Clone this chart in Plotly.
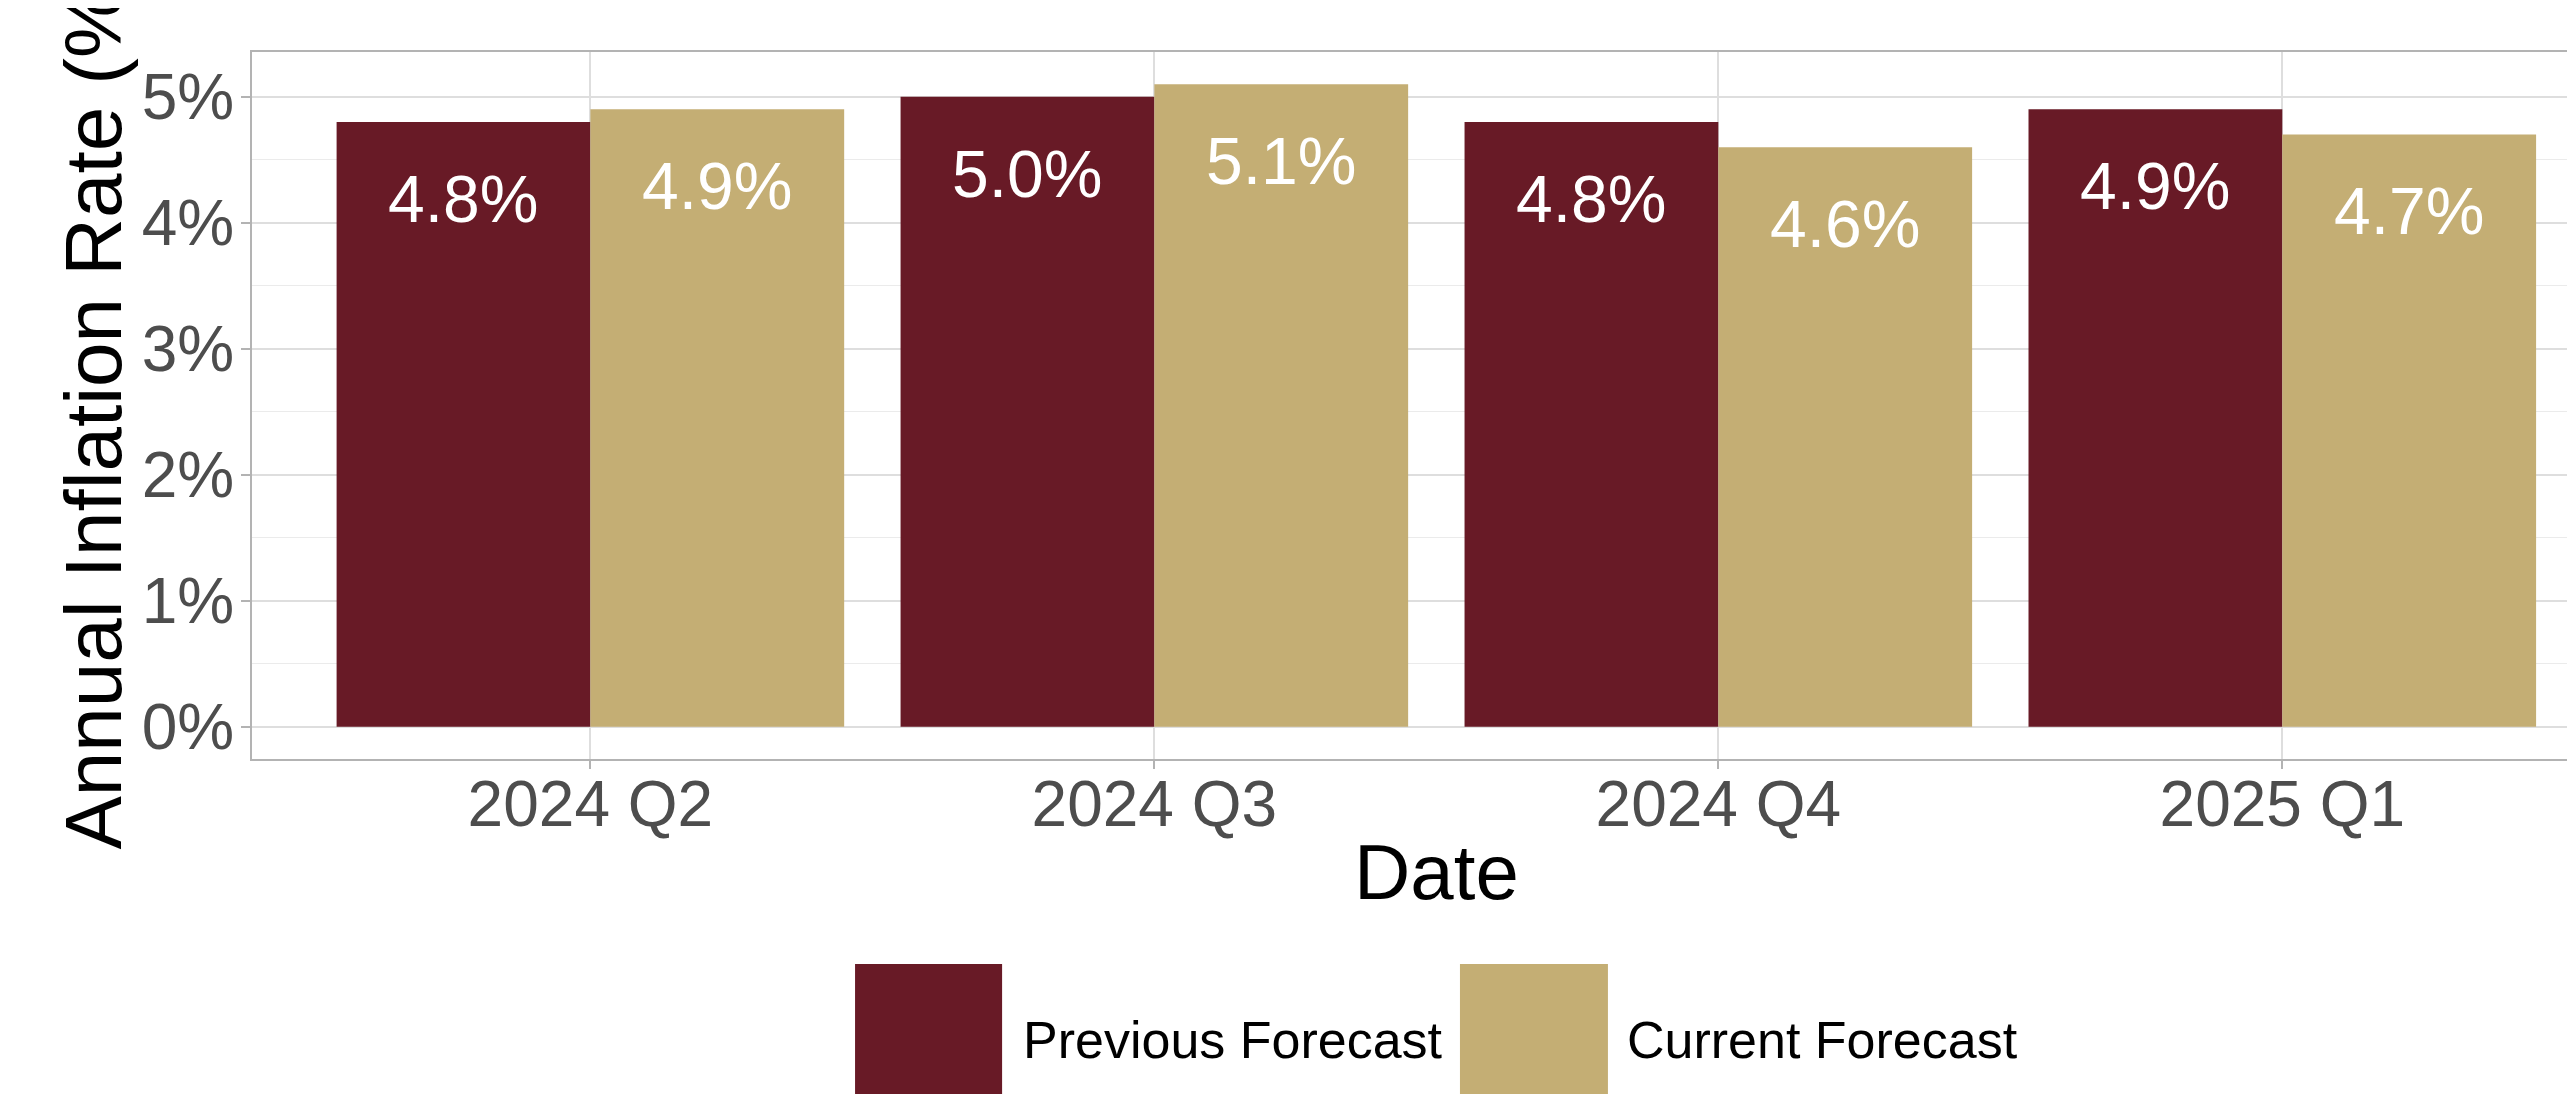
import plotly.graph_objects as go

categories = ["2024 Q2", "2024 Q3", "2024 Q4", "2025 Q1"]
previous_forecast = [4.8, 5.0, 4.8, 4.9]
current_forecast = [4.9, 5.1, 4.6, 4.7]
series_names = ["Previous Forecast", "Current Forecast"]
y_ticks = [0, 1, 2, 3, 4, 5]
y_tick_labels = ["0%", "1%", "2%", "3%", "4%", "5%"]

PREV_COLOR = "#681A26"
CURR_COLOR = "#C4AE74"
FONT = "Liberation Sans, Arial, sans-serif"

xpos = list(range(len(categories)))

fig = go.Figure()
fig.add_trace(go.Bar(x=xpos, y=previous_forecast, name=series_names[0],
                     marker=dict(color=PREV_COLOR, line=dict(width=0)), showlegend=False))
fig.add_trace(go.Bar(x=xpos, y=current_forecast, name=series_names[1],
                     marker=dict(color=CURR_COLOR, line=dict(width=0)), showlegend=False))

annotations = []
for i, (p, c) in enumerate(zip(previous_forecast, current_forecast)):
    for dx, v in ((-0.225, p), (0.225, c)):
        annotations.append(dict(x=i + dx, y=v - 0.61, xref="x", yref="y",
                                text=f"{v:.1f}%", showarrow=False,
                                font=dict(family=FONT, size=66, color="white"),
                                xanchor="center", yanchor="middle"))

# axis titles
annotations.append(dict(x=0.5097, y=-0.095, xref="paper", yref="paper", text="Date",
                        showarrow=False, font=dict(family=FONT, size=78, color="black"),
                        xanchor="center", yanchor="top"))
annotations.append(dict(x=-0.0684, y=0.5, xref="paper", yref="paper",
                        text="Annual Inflation Rate (%)", textangle=-90,
                        showarrow=False, font=dict(family=FONT, size=80, color="black"),
                        xanchor="center", yanchor="middle"))

# manual legend
shapes = []
legend_items = [(series_names[0], PREV_COLOR, 0.2596, 0.3229, 0.331),
                (series_names[1], CURR_COLOR, 0.520, 0.5837, 0.591)]
for name, col, x0, x1, tx in legend_items:
    shapes.append(dict(type="rect", xref="paper", yref="paper", x0=x0, x1=x1,
                       y0=-0.498, y1=-0.29, fillcolor=col, line=dict(width=0)))
    annotations.append(dict(x=tx, y=-0.397, xref="paper", yref="paper", text=name,
                            showarrow=False, font=dict(family=FONT, size=52, color="black"),
                            xanchor="left", yanchor="middle"))

fig.update_layout(
    width=2575, height=1094,
    margin=dict(l=244, r=8, t=44, b=343, pad=0, autoexpand=False),
    paper_bgcolor="white", plot_bgcolor="white",
    barmode="group", bargap=0.1, bargroupgap=0,
    font=dict(family=FONT),
    annotations=annotations, shapes=shapes,
    showlegend=False,
)
fig.update_xaxes(
    range=[-0.6, 3.519], tickvals=xpos, ticktext=categories,
    tickfont=dict(family=FONT, size=64, color="#4D4D4D"),
    showgrid=True, gridcolor="#DEDEDE", gridwidth=1.5,
    showline=True, mirror=True, linecolor="#B3B3B3", linewidth=2,
    ticks="outside", ticklen=8, tickwidth=1.5, tickcolor="#B3B3B3",
    ticklabelstandoff=-20,
    zeroline=False, automargin=False,
)
fig.update_yaxes(
    range=[-0.255, 5.355], tickvals=y_ticks, ticktext=y_tick_labels,
    tickfont=dict(family=FONT, size=64, color="#4D4D4D"),
    showgrid=True, gridcolor="#DEDEDE", gridwidth=1.5,
    minor=dict(dtick=0.5, showgrid=True, gridcolor="#EBEBEB", gridwidth=1, ticks=""),
    showline=True, mirror=False, linecolor="#B3B3B3", linewidth=2,
    ticks="outside", ticklen=9, tickwidth=1.5, tickcolor="#B3B3B3",
    ticklabelstandoff=-6,
    zeroline=False, automargin=False,
)

fig.write_html("out.html")
